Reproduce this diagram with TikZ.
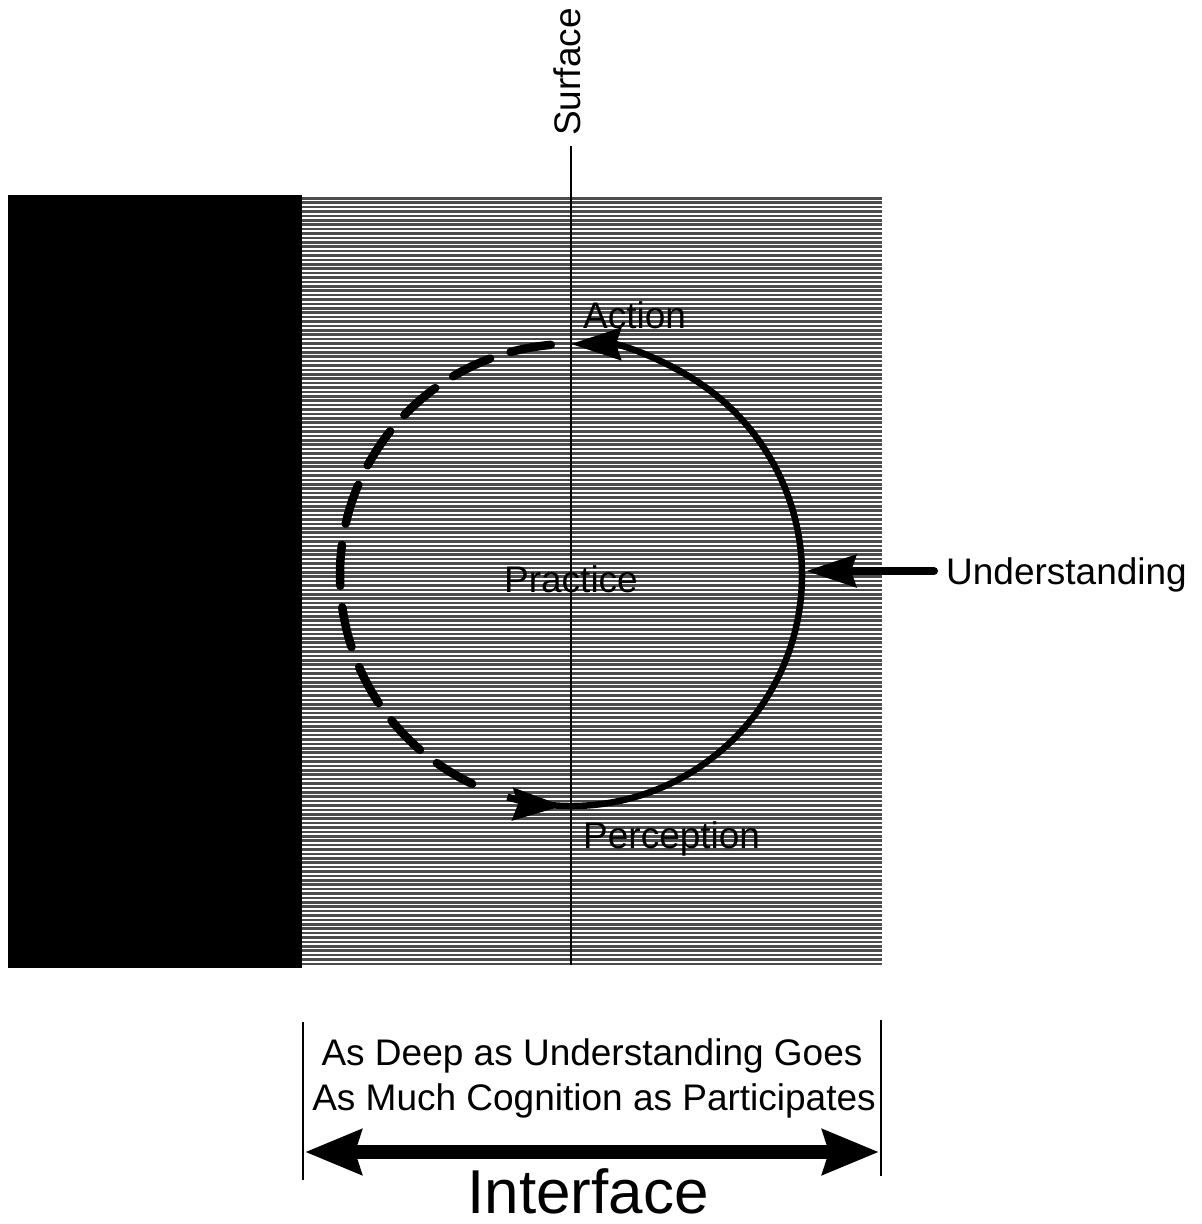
\documentclass[tikz,border=0pt]{standalone}
\usepackage{fontspec}
\setmainfont{Liberation Sans}
\usetikzlibrary{arrows.meta,calc}
\begin{document}
\begin{tikzpicture}[x=1pt,y=-1pt,
  hatch/.style={line width=2.6pt, black!70},
  lbl/.style={inner sep=0pt, font=\fontsize{37}{44}\selectfont},
  solidarc/.style={line width=6.5pt},
  dasharc/.style={line width=8.5pt, line cap=round, dash pattern=on 41pt off 21.5pt},
  headA/.style={-{Stealth[length=50pt,width=32pt,inset=5pt]}},
  bighead/.style={{Stealth[length=56pt,width=44pt,inset=6pt]}-{Stealth[length=56pt,width=44pt,inset=6pt]}},
  bar/.style={line width=2pt},
]
\useasboundingbox (0,0) rectangle (1202,1224);
\fill[white] (0,0) rectangle (1202,1224);
% black block
\fill[black] (8,195) rectangle (302,968);
% hatched field
\foreach \y in {198.2,202.6,...,964} \draw[hatch] (302,\y) -- (882,\y);

% surface line
\coordinate (c) at (571,575);
\coordinate (surftop) at (571,146);
\coordinate (surfbot) at (571,965);
\draw[bar] (surftop) -- (surfbot);
\node[lbl, rotate=90] (surface) at (567,72) {Surface};

% cycle
\draw[solidarc, headA] ($(c)+(96:231)$) arc[start angle=96, end angle=-90, radius=231];
\draw[dasharc] ($(c)+(265:231)$) arc[start angle=265, end angle=112, radius=231];
\draw[line width=7pt, headA] ($(c)+(106:231)$) arc[start angle=106, end angle=92, radius=231];

% labels
\node[lbl, anchor=base west] (action) at (583,328) {Action};
\node[lbl, anchor=base] (practice) at (571,592) {Practice};
\node[lbl, anchor=base west] (perception) at (583,848) {Perception};

% understanding
\node[lbl, anchor=base west] (und) at (946,584) {Understanding};
\coordinate (undtail) at (934,571);
\coordinate (undtip) at (806,571);
\draw[line width=8pt, line cap=round, headA] (undtail) -- (undtip);

% interface
\node[lbl, anchor=base] (deep) at (592,1065) {As Deep as Understanding Goes};
\node[lbl, anchor=base] (much) at (594,1110) {As Much Cognition as Participates};
\node[inner sep=0pt, font=\fontsize{62}{70}\selectfont, anchor=base] (iface) at (588,1213) {Interface};
\coordinate (bl1) at (303,1022);
\coordinate (bl2) at (303,1180);
\coordinate (br1) at (881,1020);
\coordinate (br2) at (881,1176);
\draw[bar] (bl1) -- (bl2);
\draw[bar] (br1) -- (br2);
\coordinate (al) at (305,1152);
\coordinate (ar) at (879,1152);
\draw[line width=14pt, bighead] (al) -- (ar);
\end{tikzpicture}
\end{document}
